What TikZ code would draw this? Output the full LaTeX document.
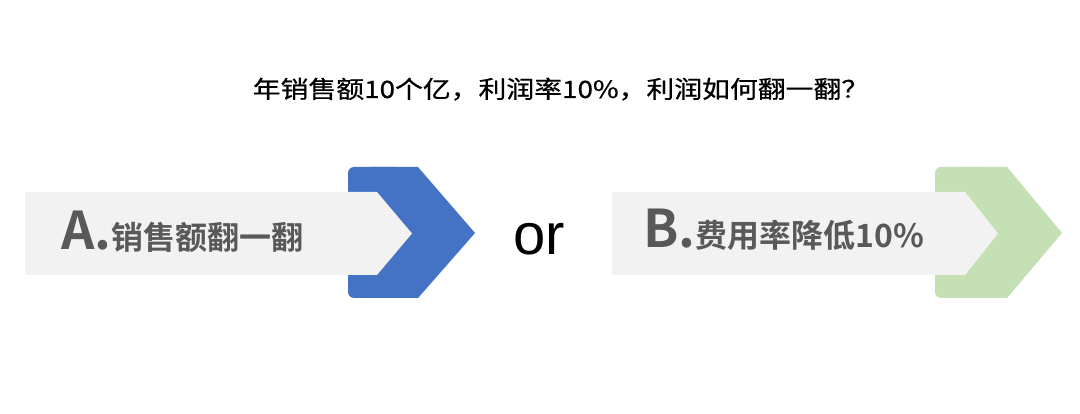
\documentclass[tikz,border=0pt]{standalone}
\usepackage{fontspec}
\newfontfamily\cjk[FakeBold=0.6]{Noto Sans CJK SC}
\newfontfamily\cjkb{Noto Sans CJK SC Bold}
\newfontfamily\latin{Liberation Sans}
\definecolor{cblue}{HTML}{4472C4}
\definecolor{cgreen}{HTML}{C5E0B4}
\definecolor{cgray}{HTML}{F2F2F2}
\definecolor{ctext}{HTML}{595959}
\begin{document}
\begin{tikzpicture}[x=1pt,y=-1pt,
  band/.style={fill=cgray},
  label/.style={inner sep=0pt,text=ctext},
  title/.style={inner sep=0pt,text=black}]
\useasboundingbox[fill=white] (0,0) rectangle (1080,414);
% title
\node[title,anchor=base] (t) at (561,98) {\cjk\fontsize{24}{28}\selectfont\scalebox{1.16}[1]{年销售额10个亿，利润率10\%，利润如何翻一翻？}};
% A chevron
\fill[cblue,rounded corners=6pt] (348,167) rectangle (400,298);
\fill[cblue] (370,167) -- (418,167) -- (475,233) -- (418,298) -- (370,298) -- cycle;
\fill[band] (25,192) -- (377,192) -- (412,233.5) -- (377,275) -- (25,275) -- cycle;
\node[label,anchor=base west] (a) at (61,250) {\cjkb\fontsize{52}{56}\selectfont A.\fontsize{32}{36}\selectfont 销售额翻一翻};
% or
\node[inner sep=0pt,anchor=base west] (or) at (513,255) {\latin\fontsize{58}{62}\selectfont or};
% B chevron
\fill[cgreen,rounded corners=6pt] (935,167) rectangle (990,298);
\fill[cgreen] (960,167) -- (1007,167) -- (1062,233) -- (1007,298) -- (960,298) -- cycle;
\fill[band] (612,192) -- (965,192) -- (998,233.5) -- (965,275) -- (612,275) -- cycle;
\node[label,anchor=base west] (b) at (643,248) {\cjkb\fontsize{52}{56}\selectfont B.\fontsize{32}{36}\selectfont 费用率降低10\%};
\end{tikzpicture}
\end{document}
